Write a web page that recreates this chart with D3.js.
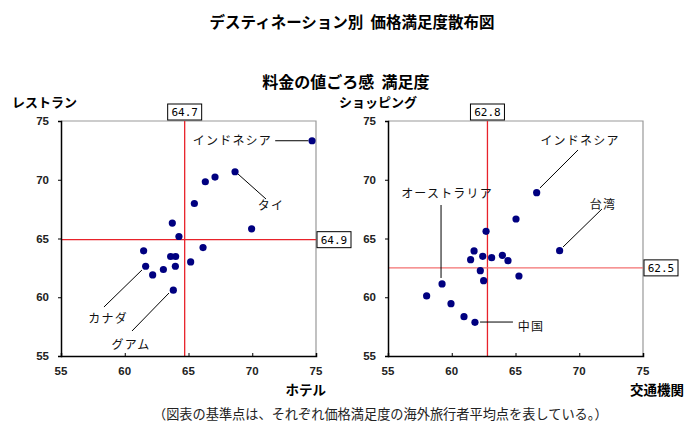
<!DOCTYPE html>
<html><head><meta charset="utf-8">
<script src="https://cdn.jsdelivr.net/npm/d3@7"></script>
<style>
body{margin:0;background:#fff;}
svg{display:block;}
</style></head>
<body>
<svg id="c" width="687" height="442"></svg>
<script>
// ---- Data ----
const hotel      = [74.69,68.65,67.08,66.32,65.46,69.95,63.73,64.25,66.14,61.48,63.60,63.99,65.17,61.64,63.97,63.03,62.19,63.81];
const restaurant = [73.32,70.68,70.23,69.83,67.98,65.82,66.31,65.17,64.23,63.95,63.47,63.47,63.01,62.64,62.64,62.36,61.90,60.60];
const transport  = [66.66,65.04,68.46,62.69,61.75,61.48,62.43,63.13,63.97,64.41,62.24,62.50,65.27,59.24,58.03,59.94,60.96,61.82];
const shopping   = [68.90,66.66,63.96,65.61,63.94,63.20,63.48,63.37,63.57,63.11,62.26,61.41,61.81,61.13,60.11,59.45,58.35,57.87];
const ticks = [55,60,65,70,75];
const meanLeft  = {x:64.7, y:64.9};
const meanRight = {x:62.8, y:62.5};
// annotations: label text, text position (data), leader line (data)
const annLeft = [
  {t:"インドネシア", tx:71.55, ty:73.32, anchor:"end", l:[71.8,73.32,74.4,73.32]},
  {t:"タイ",        tx:71.47, ty:67.77, anchor:"middle", l:[68.88,70.49,71.08,68.36]},
  {t:"カナダ",      tx:58.69, ty:58.15, anchor:"middle", l:[61.35,62.32,58.37,59.17]},
  {t:"グアム",      tx:60.49, ty:55.94, anchor:"middle", l:[63.47,60.36,60.57,57.13]}
];
const annRight = [
  {t:"インドネシア",   tx:70.06, ty:73.30, anchor:"middle", l:[66.92,69.30,69.90,72.53]},
  {t:"台湾",          tx:71.86, ty:67.85, anchor:"middle", l:[68.73,64.28,71.78,67.51]},
  {t:"オーストラリア", tx:59.63, ty:68.79, anchor:"middle", l:[59.16,67.85,59.16,61.64]},
  {t:"中国",          tx:66.22, ty:57.47, anchor:"middle", l:[62.22,57.89,64.80,57.89]}
];

const svg = d3.select("#c");
const JP = "'Noto Sans CJK JP','Noto Sans',sans-serif";
const AR = "'Liberation Sans',Arial,sans-serif";
const MONO = "'DejaVu Sans Mono','Liberation Mono',monospace";

svg.append("text").attr("x",352).attr("y",28).attr("text-anchor","middle")
  .attr("font-family",JP).attr("font-weight","bold").attr("font-size",15.5)
  .attr("xml:space","preserve").style("white-space","pre")
  .text("デスティネーション別  価格満足度散布図");
svg.append("text").attr("x",346).attr("y",88).attr("text-anchor","middle")
  .attr("font-family",JP).attr("font-weight","bold").attr("font-size",16)
  .attr("xml:space","preserve").style("white-space","pre")
  .text("料金の値ごろ感  満足度");
svg.append("text").attr("x",153).attr("y",419)
  .attr("font-family",JP).attr("font-size",13.2).attr("fill","#222")
  .text("（図表の基準点は、それぞれ価格満足度の海外旅行者平均点を表している。）");

function panel(opt){
  const x = d3.scaleLinear().domain([55,75]).range([opt.x0,opt.x1]);
  const y = d3.scaleLinear().domain([55,75]).range([356,121]);
  const g = svg.append("g");
  // frame top/right gray
  g.append("path").attr("d",`M${opt.x0},121H${opt.x1}V356`).attr("fill","none")
    .attr("stroke","#999").attr("stroke-width",1.2);
  // mean lines
  g.append("line").attr("x1",x(opt.mean.x)).attr("x2",x(opt.mean.x)).attr("y1",121).attr("y2",356)
    .attr("stroke","#e8222a").attr("stroke-width",1.3);
  g.append("line").attr("x1",opt.x0).attr("x2",opt.x1).attr("y1",y(opt.mean.y)).attr("y2",y(opt.mean.y))
    .attr("stroke",opt.hColor).attr("stroke-width",1.3);
  // axes
  const xa = g.append("g").attr("transform",`translate(0,356)`)
    .call(d3.axisTop(x).tickValues(ticks).tickSize(3).tickFormat(""));
  xa.select(".domain").attr("stroke","#000").attr("stroke-width",1.5);
  xa.selectAll(".tick line").attr("stroke","#000");
  g.selectAll(".xl").data(ticks).enter().append("text")
    .attr("x",d=>x(d)).attr("y",375).attr("text-anchor","middle")
    .attr("font-family",AR).attr("font-size",11.5).attr("font-weight","bold").attr("fill","#222").text(d=>d);
  const ya = g.append("g").attr("transform",`translate(${opt.x0},0)`)
    .call(d3.axisLeft(y).tickValues(ticks).tickSize(3).tickFormat(""));
  ya.select(".domain").attr("stroke","#000").attr("stroke-width",1.5);
  ya.selectAll(".tick line").attr("stroke","#000");
  g.selectAll(".yl").data(ticks).enter().append("text")
    .attr("x",opt.x0-12).attr("y",d=>y(d)+4).attr("text-anchor","end")
    .attr("font-family",AR).attr("font-size",11.5).attr("font-weight","bold").attr("fill","#222").text(d=>d);
  // annotations
  opt.ann.forEach(a=>{
    g.append("line").attr("x1",x(a.l[0])).attr("y1",y(a.l[1])).attr("x2",x(a.l[2])).attr("y2",y(a.l[3]))
      .attr("stroke","#000").attr("stroke-width",1);
    g.append("text").attr("x",x(a.tx)).attr("y",y(a.ty)).attr("dy","0.36em")
      .attr("text-anchor",a.anchor).attr("font-family",JP).attr("font-size",12)
      .attr("letter-spacing","1.2px").attr("fill","#111").text(a.t);
  });
  // points
  g.selectAll("circle").data(opt.xs).enter().append("circle")
    .attr("cx",d=>x(d)).attr("cy",(d,i)=>y(opt.ys[i])).attr("r",3.6).attr("fill","#000080");
  // value boxes
  function box(cx,cy,txt){
    const w=34,h=16;
    g.append("rect").attr("x",cx-w/2).attr("y",cy-h/2).attr("width",w).attr("height",h)
      .attr("fill","#fff").attr("stroke","#000").attr("stroke-width",1);
    g.append("text").attr("x",cx).attr("y",cy).attr("dy","0.36em").attr("text-anchor","middle")
      .attr("font-family",MONO).attr("font-size",11).text(txt);
  }
  box(x(opt.mean.x),112,opt.mean.x.toFixed(1));
  box(opt.x1+18,y(opt.mean.y),opt.mean.y.toFixed(1));
  // axis titles
  g.append("text").attr("x",opt.ytx).attr("y",107).attr("font-family",JP).attr("font-size",13)
    .attr("font-weight","bold").text(opt.ytitle);
  g.append("text").attr("x",opt.xtx).attr("y",395).attr("text-anchor","end").attr("font-family",JP).attr("font-size",13.5)
    .attr("font-weight","bold").text(opt.xtitle);
}

panel({x0:61,x1:316,xs:hotel,ys:restaurant,mean:meanLeft,hColor:"#e8222a",ann:annLeft,
  ytitle:"レストラン",ytx:12,xtitle:"ホテル",xtx:326});
panel({x0:388,x1:643,xs:transport,ys:shopping,mean:meanRight,hColor:"#f37070",ann:annRight,
  ytitle:"ショッピング",ytx:339,xtitle:"交通機関",xtx:684});
</script>
</body></html>
